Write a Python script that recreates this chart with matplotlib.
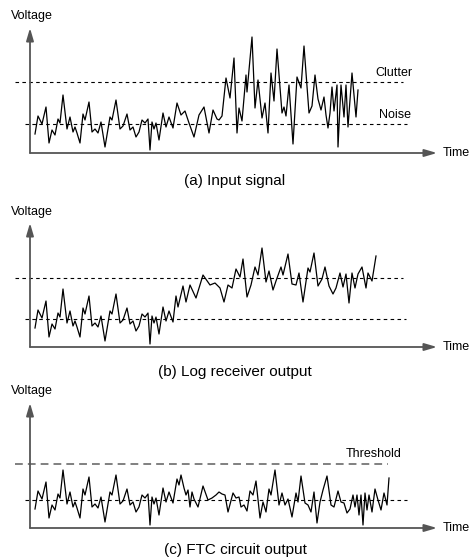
import matplotlib
matplotlib.use('Agg')
import matplotlib.pyplot as plt

plt.rcParams['font.family'] = ['Liberation Sans', 'DejaVu Sans']
small, big = 9, 11

# time axis: 0 at the origin of each panel, voltage in arbitrary units
# common receiver noise at the start of every trace
noise_t = [5, 8, 12, 16, 19, 22, 25, 28, 30, 33, 37, 40, 43, 45, 47, 50, 53, 55,
           59, 62, 65, 68, 71, 75, 80, 82, 86, 90, 93, 97, 100, 103, 106, 109,
           112, 115, 118, 120, 122, 124, 126, 129, 133, 136, 139, 143]
noise_v = [19, 37, 29, 46, 10, 23, 18, 34, 30, 58, 24, 36, 21, 26, 20, 10, 39, 33,
           51, 21, 24, 20, 31, 6, 36, 33, 53, 24, 27, 39, 23, 26, 16, 21,
           33, 30, 34, 3, 31, 24, 30, 13, 40, 26, 36, 25]

# (a) input signal: clutter after the noise
input_t = [147, 151, 155, 159, 164, 169, 174, 179, 183, 187, 189, 192, 196, 200,
           204, 207, 209, 212, 216, 217, 222, 225, 228, 232, 235, 238, 241, 244,
           247, 252, 254, 256, 259, 263, 267, 271, 274, 279, 282, 285, 288, 291,
           294, 296, 298, 300, 302, 304, 307, 308, 311, 314, 316, 318, 322, 326, 328]
input_v = [50, 38, 42, 30, 16, 38, 46, 20, 43, 34, 33, 37, 75, 55,
           95, 20, 45, 32, 78, 61, 116, 45, 73, 35, 50, 20, 80, 52,
           104, 40, 46, 37, 68, 9, 76, 65, 107, 40, 47, 78, 54, 43,
           56, 38, 25, 40, 66, 42, 68, 6, 68, 36, 68, 26, 80, 36, 63]

# (b) log receiver output
log_t = [146, 148, 153, 156, 160, 166, 173, 180, 185, 190, 194, 198, 202, 206,
         210, 213, 217, 221, 225, 228, 232, 236, 239, 243, 246, 251, 253, 258,
         262, 266, 269, 273, 278, 280, 284, 288, 292, 295, 299, 303, 306, 310,
         313, 316, 319, 322, 325, 328, 332, 336, 338, 342, 346]
log_v = [51, 40, 61, 45, 62, 49, 72, 62, 64, 59, 45, 62, 59, 78,
         70, 88, 50, 62, 80, 72, 99, 65, 76, 57, 66, 80, 72, 93,
         63, 62, 74, 45, 79, 75, 94, 61, 68, 80, 61, 53, 59, 74,
         60, 73, 44, 74, 59, 73, 80, 59, 74, 66, 91]

# (c) FTC circuit output
ftc_t = [147, 149, 151, 154, 156, 158, 160, 162, 164, 168, 173, 178, 182, 186,
         189, 192, 195, 198, 203, 206, 209, 211, 214, 217, 220, 223, 226, 230,
         233, 236, 239, 241, 245, 249, 252, 255, 258, 262, 266, 268, 271, 275,
         278, 281, 284, 287, 290, 293, 297, 301, 304, 308, 311, 314, 317, 320,
         323, 325, 327, 329, 331, 333, 335, 337, 339, 342, 345, 348, 351, 354,
         357, 359]
ftc_v = [49, 43, 53, 40, 33, 38, 21, 36, 29, 21, 42, 28, 30, 33,
         36, 34, 33, 16, 35, 30, 31, 21, 23, 17, 37, 33, 47, 10,
         26, 16, 39, 33, 58, 23, 35, 23, 29, 11, 35, 26, 52, 25,
         23, 16, 36, 5, 26, 38, 52, 23, 21, 37, 26, 25, 15, 19,
         33, 21, 33, 13, 33, 3, 35, 18, 33, 16, 39, 28, 18, 35,
         23, 50]

panels = [
    dict(t=noise_t + input_t, v=noise_v + input_v, top=0, bottom=190, base=153,
         yarrow=125, caption='(a) Input signal', cap_y=-28, text_y=137,
         levels=[(71, 'Clutter', -15, 373), (29, 'Noise', -5, 377)]),
    dict(t=noise_t + log_t, v=noise_v + log_v, top=190, bottom=375, base=347,
         yarrow=124, caption='(b) Log receiver output', cap_y=-25, text_y=135,
         levels=[(69, '', -15, 373), (28, '', -5, 376)]),
    dict(t=noise_t + ftc_t, v=noise_v + ftc_v, top=375, bottom=559, base=528,
         yarrow=125, caption='(c) FTC circuit output', cap_y=-22, text_y=137,
         levels=[(64, 'Threshold', -15, 358), (28, '', -5, 377)]),
]

H = 559.0
fig = plt.figure(figsize=(4.7, 5.59), dpi=100)
axis_col = '#555555'

for p in panels:
    ax = fig.add_axes([0, 1 - p['bottom'] / H, 1, (p['bottom'] - p['top']) / H])
    ax.set_xlim(-30, 440)
    ax.set_ylim(p['base'] - p['bottom'], p['base'] - p['top'])
    ax.axis('off')

    # axes with arrow heads
    arrow = dict(arrowstyle='-|>,head_length=0.75,head_width=0.22', color=axis_col,
                 lw=1.3, shrinkA=0, shrinkB=0, mutation_scale=10)
    ax.annotate('', xy=(0, p['yarrow']), xytext=(0, 0), arrowprops=arrow)
    ax.annotate('', xy=(407, 0), xytext=(0, 0), arrowprops=arrow)
    ax.text(-19, p['text_y'], 'Voltage', fontsize=small, ha='left', va='center')
    ax.text(413, 0, 'Time', fontsize=small, ha='left', va='center')

    for level, label, x0, x1 in p['levels']:
        if label == 'Threshold':
            ax.plot([x0, x1], [level, level], color='#808080', lw=1.4,
                    linestyle=(0, (4, 2.6)))
            ax.text(x1 - 42, level + 10, label, fontsize=small, ha='left', va='center')
        else:
            ax.plot([x0, x1], [level, level], color='black', lw=0.8,
                    linestyle=(0, (3.2, 3)))
            if label:
                ax.text(x1 - 28, level + 9, label, fontsize=small, ha='left', va='center')

    ax.plot(p['t'], p['v'], color='black', lw=0.9)
    ax.text(205, p['cap_y'], p['caption'], fontsize=big, ha='center', va='center')

fig.savefig('out.png', dpi=100)
